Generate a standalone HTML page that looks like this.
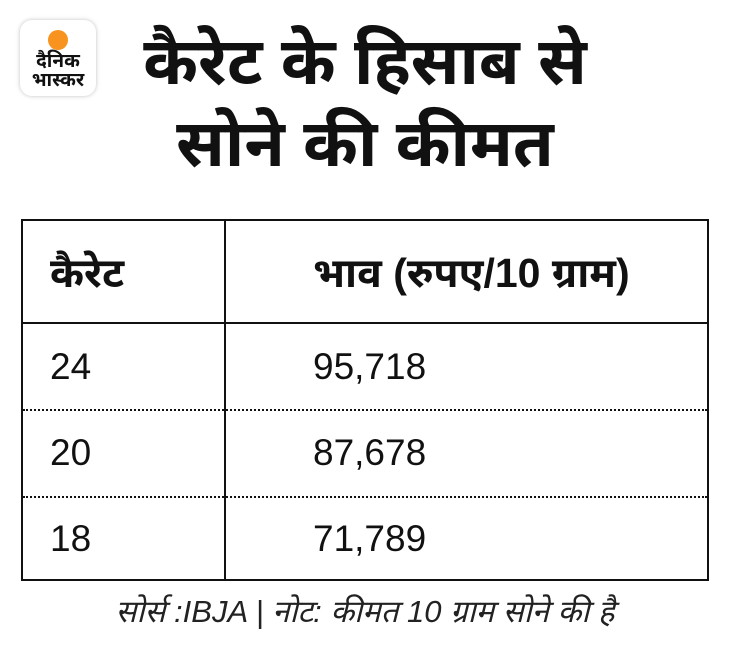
<!DOCTYPE html>
<html><head><meta charset="utf-8"><style>
body{margin:0;width:730px;height:660px;background:#fff;position:relative;overflow:hidden;font-family:"Liberation Sans","Noto Sans Devanagari","Lohit Devanagari",sans-serif;color:#111}
.logo{position:absolute;left:20px;top:20px;width:76px;height:76px;border-radius:12px;background:#fff;box-shadow:0 0 4px rgba(0,0,0,.25);text-align:center}
.dot{position:absolute;left:28px;top:10px;width:20px;height:20px;border-radius:50%;background:#f7931e}
.lt{position:absolute;left:0;right:0;top:32px;font-size:19px;font-weight:bold;line-height:19px}
.title{position:absolute;left:80px;width:570px;top:20px;text-align:center;font-size:66px;font-weight:bold;line-height:82px}
.t{position:absolute;left:21px;top:219px;width:688px;height:362px;border:2px solid #111;box-sizing:border-box}
.v{position:absolute;left:201px;top:0;bottom:0;border-left:2px solid #111}
.h{position:absolute;left:0;right:0;top:101px;border-top:2px solid #111}
.d{position:absolute;left:0;right:0;border-top:2px dotted #111}
.c{position:absolute;font-size:37px;line-height:40px}
.b{font-weight:bold;font-size:41px}
.foot{position:absolute;left:0;right:0;top:594px;text-align:center;font-size:31px;font-style:italic;color:#222}
</style></head><body>
<div class="logo"><div class="dot"></div><div class="lt">दैनिक<br>भास्कर</div></div>
<div class="title">कैरेट के हिसाब से<br>सोने की कीमत</div>
<div class="t">
<div class="v"></div><div class="h"></div>
<div class="d" style="top:188px"></div><div class="d" style="top:275px"></div>
<div class="c b" style="left:27px;top:32px">कैरेट</div>
<div class="c b" style="left:290px;top:32px">भाव (रुपए/10 ग्राम)</div>
<div class="c" style="left:27px;top:126px">24</div>
<div class="c" style="left:290px;top:126px">95,718</div>
<div class="c" style="left:27px;top:212px">20</div>
<div class="c" style="left:290px;top:212px">87,678</div>
<div class="c" style="left:27px;top:298px">18</div>
<div class="c" style="left:290px;top:298px">71,789</div>
</div>
<div class="foot">सोर्स :IBJA | नोट: कीमत 10 ग्राम सोने की है</div>
</body></html>
